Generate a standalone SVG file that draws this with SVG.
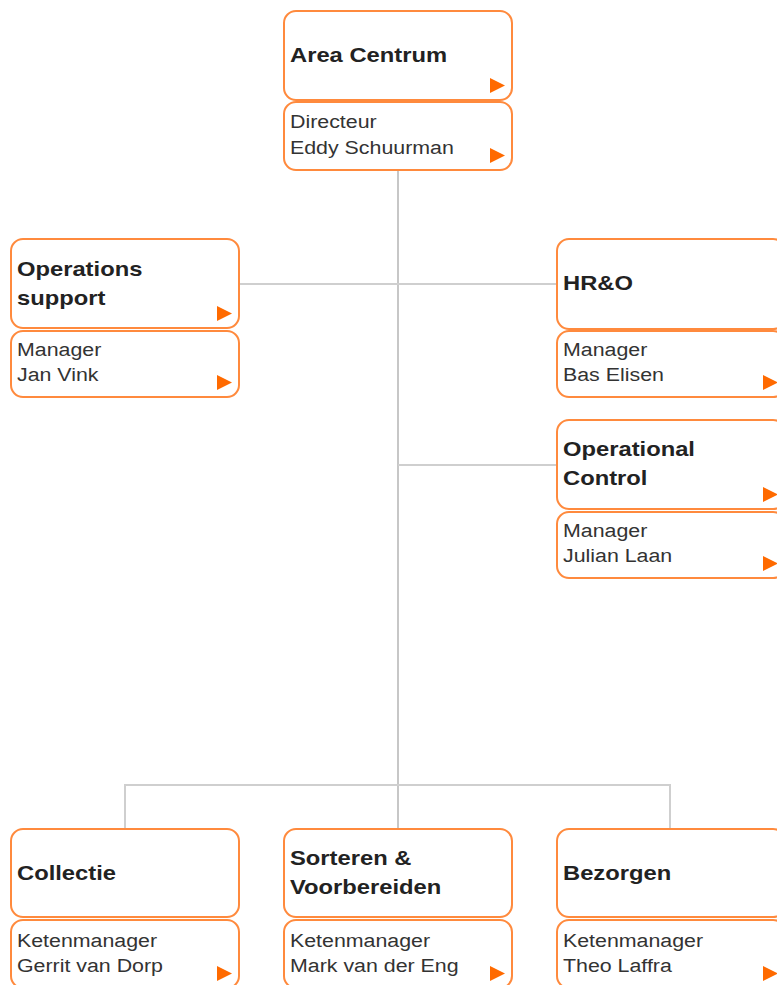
<svg xmlns="http://www.w3.org/2000/svg" width="777" height="985" viewBox="0 0 777 985">
  <defs>
    <style>
      .box { fill: #ffffff; stroke: #ff8a3d; stroke-width: 2; }
      .tri { fill: #ff6a00; }
      .t { font-family: "Liberation Sans", Arial, sans-serif; font-size: 17.8px; fill: #333333; }
      .b { font-family: "Liberation Sans", Arial, sans-serif; font-size: 19.8px; font-weight: bold; fill: #222222; }
      .v { stroke: #b4b4b4; stroke-width: 1.5; fill: none; }
      .h { stroke: #cfcfcf; stroke-width: 2; fill: none; }
    </style>
    <!-- arrow marker drawn at a box's bottom-right corner -->
    <polygon id="tri" class="tri" points="-22,-22 -22,-7 -7,-14.5"/>
  </defs>

  <rect width="777" height="985" fill="#ffffff"/>

  <g id="connectors">
    <line class="v" x1="398" y1="170" x2="398" y2="829"/>
    <line class="h" x1="239" y1="284" x2="557" y2="284"/>
    <line class="h" x1="398" y1="465" x2="557" y2="465"/>
    <polyline class="h" points="125,829 125,785 670,785 670,829"/>
  </g>

  <!-- Area Centrum -->
  <g id="area-centrum">
    <rect class="box" x="284" y="11" width="228" height="89" rx="12"/>
    <use href="#tri" x="512" y="100"/>
    <rect class="box" x="284" y="102" width="228" height="68" rx="12"/>
    <use href="#tri" x="512" y="170"/>
    <g transform="translate(290,0) scale(1.2,1) translate(-290,0)">
      <text class="b" x="290" y="62">Area Centrum</text>
      <text class="t" x="290" y="128">Directeur</text>
      <text class="t" x="290" y="154">Eddy Schuurman</text>
    </g>
  </g>

  <!-- Operations support -->
  <g id="operations-support">
    <rect class="box" x="11" y="239" width="228" height="89" rx="12"/>
    <use href="#tri" x="239" y="328"/>
    <rect class="box" x="11" y="331" width="228" height="66" rx="12"/>
    <use href="#tri" x="239" y="397"/>
    <g transform="translate(17,0) scale(1.2,1) translate(-17,0)">
      <text class="b" x="17" y="276">Operations</text>
      <text class="b" x="17" y="305">support</text>
      <text class="t" x="17" y="356">Manager</text>
      <text class="t" x="17" y="381">Jan Vink</text>
    </g>
  </g>

  <!-- HR&O -->
  <g id="hr-o">
    <rect class="box" x="557" y="239" width="228" height="90" rx="12"/>
    <rect class="box" x="557" y="331" width="228" height="66" rx="12"/>
    <use href="#tri" x="785" y="397"/>
    <g transform="translate(563,0) scale(1.2,1) translate(-563,0)">
      <text class="b" x="563" y="290">HR&amp;O</text>
      <text class="t" x="563" y="356">Manager</text>
      <text class="t" x="563" y="381">Bas Elisen</text>
    </g>
  </g>

  <!-- Operational Control -->
  <g id="operational-control">
    <rect class="box" x="557" y="420" width="228" height="89" rx="12"/>
    <use href="#tri" x="785" y="509"/>
    <rect class="box" x="557" y="512" width="228" height="66" rx="12"/>
    <use href="#tri" x="785" y="578"/>
    <g transform="translate(563,0) scale(1.2,1) translate(-563,0)">
      <text class="b" x="563" y="456">Operational</text>
      <text class="b" x="563" y="485">Control</text>
      <text class="t" x="563" y="537">Manager</text>
      <text class="t" x="563" y="562">Julian Laan</text>
    </g>
  </g>

  <!-- Collectie -->
  <g id="collectie">
    <rect class="box" x="11" y="829" width="228" height="88" rx="12"/>
    <rect class="box" x="11" y="920" width="228" height="68" rx="12"/>
    <use href="#tri" x="239" y="988"/>
    <g transform="translate(17,0) scale(1.2,1) translate(-17,0)">
      <text class="b" x="17" y="880">Collectie</text>
      <text class="t" x="17" y="947">Ketenmanager</text>
      <text class="t" x="17" y="972">Gerrit van Dorp</text>
    </g>
  </g>

  <!-- Sorteren & Voorbereiden -->
  <g id="sorteren-voorbereiden">
    <rect class="box" x="284" y="829" width="228" height="88" rx="12"/>
    <rect class="box" x="284" y="920" width="228" height="68" rx="12"/>
    <use href="#tri" x="512" y="988"/>
    <g transform="translate(290,0) scale(1.2,1) translate(-290,0)">
      <text class="b" x="290" y="865">Sorteren &amp;</text>
      <text class="b" x="290" y="894">Voorbereiden</text>
      <text class="t" x="290" y="947">Ketenmanager</text>
      <text class="t" x="290" y="972">Mark van der Eng</text>
    </g>
  </g>

  <!-- Bezorgen -->
  <g id="bezorgen">
    <rect class="box" x="557" y="829" width="228" height="88" rx="12"/>
    <rect class="box" x="557" y="920" width="228" height="68" rx="12"/>
    <use href="#tri" x="785" y="988"/>
    <g transform="translate(563,0) scale(1.2,1) translate(-563,0)">
      <text class="b" x="563" y="880">Bezorgen</text>
      <text class="t" x="563" y="947">Ketenmanager</text>
      <text class="t" x="563" y="972">Theo Laffra</text>
    </g>
  </g>
</svg>
